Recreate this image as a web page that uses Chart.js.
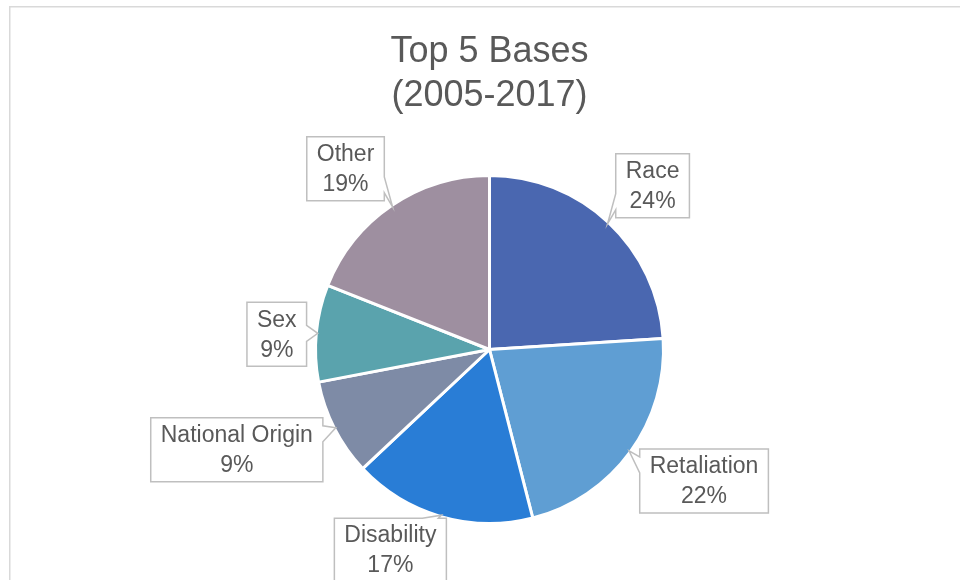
<!DOCTYPE html>
<html>
<head>
<meta charset="utf-8">
<script src="https://cdn.jsdelivr.net/npm/chart.js@4.4.1/dist/chart.umd.min.js"></script>
<style>
  html, body { margin: 0; padding: 0; background: #fff; }
  #wrap { width: 960px; height: 580px; position: relative; }
</style>
</head>
<body>
<div id="wrap"><canvas id="pieChart"></canvas></div>
<script>
// Chart data
const categories = ['Race', 'Retaliation', 'Disability', 'National Origin', 'Sex', 'Other'];
const shares = [24, 22, 17, 9, 9, 19];
const sliceColors = ['#4a67b0', '#5f9ed3', '#297dd6', '#7e8ba6', '#5aa3ad', '#9e8fa0'];
const titleLines = ['Top 5 Bases', '(2005-2017)'];

// Where each callout box sits, relative to its slice's outer mid-point (px)
const labelOffsets = [[45, -38], [75, 30], [-51, 35], [-99, 22], [-41, 1], [-47, -38]];

const TEXT = '#595959';
const FONT = "'Liberation Sans', Arial, sans-serif";
Chart.defaults.font.family = FONT;

// White background and the light grey chart frame
const framePlugin = {
  id: 'frame',
  beforeDraw(chart) {
    const ctx = chart.ctx;
    ctx.save();
    ctx.fillStyle = '#fff';
    ctx.fillRect(0, 0, chart.width, chart.height);
    ctx.strokeStyle = '#d9d9d9';
    ctx.lineWidth = 1.5;
    ctx.strokeRect(9.75, 6.75, chart.width + 20, chart.height + 20);
    ctx.restore();
  }
};

// Excel style callout labels with a wedge pointing at the slice
const calloutPlugin = {
  id: 'callouts',
  afterDraw(chart) {
    const ctx = chart.ctx;
    const meta = chart.getDatasetMeta(0);
    const values = chart.data.datasets[0].data;
    const total = values.reduce((a, b) => a + b, 0);
    const bw = chart.data.datasets[0].borderWidth;

    ctx.save();
    ctx.font = '23px ' + FONT;
    meta.data.forEach((arc, i) => {
      const mid = (arc.startAngle + arc.endAngle) / 2;
      const r = arc.outerRadius - bw / 2;
      const tipX = arc.x + Math.cos(mid) * r;
      const tipY = arc.y + Math.sin(mid) * r;
      const cx = tipX + labelOffsets[i][0];
      const cy = tipY + labelOffsets[i][1];

      const line1 = chart.data.labels[i];
      const line2 = Math.round(values[i] / total * 100) + '%';
      const w = Math.max(ctx.measureText(line1).width, ctx.measureText(line2).width) + 20;
      const h = 64;
      const left = cx - w / 2, right = cx + w / 2, top = cy - h / 2, bottom = cy + h / 2;

      // pick side facing the tip
      const nx = (tipX - cx) / (w / 2);
      const ny = (tipY - cy) / (h / 2);
      const clamp = (v, a, b) => Math.min(Math.max(v, a), b);
      const half = 8, margin = 16;
      const pts = [];
      if (Math.abs(ny) > Math.abs(nx)) {
        const bx = clamp(tipX, left + margin, right - margin);
        if (ny < 0) {
          pts.push([left, top], [bx - half, top], [tipX, tipY], [bx + half, top], [right, top], [right, bottom], [left, bottom]);
        } else {
          pts.push([left, top], [right, top], [right, bottom], [bx + half, bottom], [tipX, tipY], [bx - half, bottom], [left, bottom]);
        }
      } else {
        const by = clamp(tipY, top + margin, bottom - margin);
        if (nx < 0) {
          pts.push([left, top], [right, top], [right, bottom], [left, bottom], [left, by + half], [tipX, tipY], [left, by - half]);
        } else {
          pts.push([left, top], [right, top], [right, by - half], [tipX, tipY], [right, by + half], [right, bottom], [left, bottom]);
        }
      }
      ctx.beginPath();
      pts.forEach((p, k) => k ? ctx.lineTo(p[0], p[1]) : ctx.moveTo(p[0], p[1]));
      ctx.closePath();
      ctx.fillStyle = '#fff';
      ctx.fill();
      ctx.strokeStyle = '#bfbfbf';
      ctx.lineWidth = 1.5;
      ctx.stroke();

      ctx.fillStyle = TEXT;
      ctx.textAlign = 'center';
      ctx.textBaseline = 'middle';
      ctx.fillText(line1, cx, cy - 14);
      ctx.fillText(line2, cx, cy + 16);
    });
    ctx.restore();
  }
};

const ctx = document.getElementById('pieChart').getContext('2d');
new Chart(ctx, {
  type: 'pie',
  data: {
    labels: categories,
    datasets: [{
      data: shares,
      backgroundColor: sliceColors,
      borderColor: '#ffffff',
      borderWidth: 3
    }]
  },
  options: {
    responsive: true,
    maintainAspectRatio: false,
    animation: false,
    layout: {
      padding: { top: 0, left: 314, right: 295, bottom: 55 }
    },
    plugins: {
      legend: { display: false },
      tooltip: { enabled: false },
      title: {
        display: true,
        text: titleLines,
        color: TEXT,
        font: { size: 36, weight: 'normal', lineHeight: 44 / 36 },
        padding: { top: 30, bottom: 56 }
      }
    }
  },
  plugins: [framePlugin, calloutPlugin]
});
</script>
</body>
</html>
